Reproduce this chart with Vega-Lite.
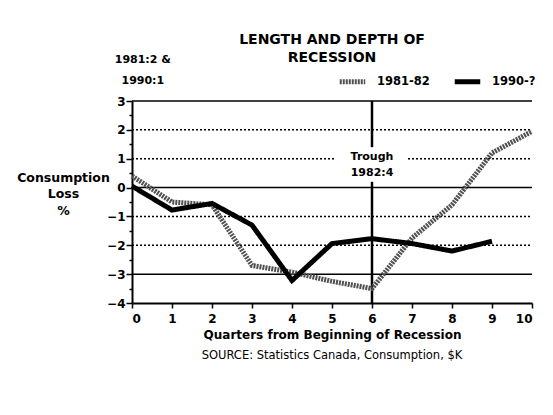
{
  "$schema": "https://vega.github.io/schema/vega-lite/v6.json",
  "width": 400,
  "height": 202,
  "autosize": {"type": "none"},
  "padding": {"left": 132, "top": 101, "right": 21, "bottom": 112},
  "background": "white",
  "config": {
    "view": {"stroke": null},
    "font": "DejaVu Sans",
    "legend": {
      "orient": "none",
      "legendX": 205,
      "legendY": -35,
      "direction": "horizontal",
      "symbolType": "stroke",
      "symbolSize": 650,
      "symbolStrokeWidth": 5,
      "labelFont": "DejaVu Sans",
      "labelFontSize": 11.5,
      "labelFontWeight": "bold",
      "labelColor": "black",
      "columnPadding": 14,
      "labelOffset": 9
    }
  },
  "title": {
    "text": ["LENGTH AND DEPTH OF", "RECESSION"],
    "frame": "group",
    "anchor": "middle",
    "font": "DejaVu Sans",
    "fontSize": 14,
    "fontWeight": "bold",
    "color": "black",
    "lineHeight": 18,
    "offset": -11
  },
  "datasets": {
    "series": [
      {"s": "1981-82", "q": 0, "v": 0.4},
      {"s": "1981-82", "q": 1, "v": -0.5},
      {"s": "1981-82", "q": 2, "v": -0.6},
      {"s": "1981-82", "q": 3, "v": -2.7},
      {"s": "1981-82", "q": 4, "v": -2.93},
      {"s": "1981-82", "q": 5, "v": -3.25},
      {"s": "1981-82", "q": 6, "v": -3.5},
      {"s": "1981-82", "q": 7, "v": -1.75},
      {"s": "1981-82", "q": 8, "v": -0.6},
      {"s": "1981-82", "q": 9, "v": 1.2},
      {"s": "1981-82", "q": 10, "v": 1.95},
      {"s": "1990-?", "q": 0, "v": 0.05},
      {"s": "1990-?", "q": 1, "v": -0.78},
      {"s": "1990-?", "q": 2, "v": -0.55},
      {"s": "1990-?", "q": 3, "v": -1.3},
      {"s": "1990-?", "q": 4, "v": -3.22},
      {"s": "1990-?", "q": 5, "v": -1.94},
      {"s": "1990-?", "q": 6, "v": -1.77},
      {"s": "1990-?", "q": 7, "v": -1.94},
      {"s": "1990-?", "q": 8, "v": -2.2},
      {"s": "1990-?", "q": 9, "v": -1.86}
    ],
    "gridSolid": [
      {"q": 0, "q2": 10, "v": 3},
      {"q": 0, "q2": 10, "v": 0},
      {"q": 0, "q2": 10, "v": -3}
    ],
    "gridDashed": [
      {"q": 0, "q2": 10, "v": 2},
      {"q": 0, "q2": 5.05, "v": 1},
      {"q": 6.9, "q2": 10, "v": 1},
      {"q": 0, "q2": 10, "v": -1},
      {"q": 0, "q2": 10, "v": -2}
    ],
    "trough": [
      {"q": 6, "v": 3, "v2": 1.4},
      {"q": 6, "v": 0.2, "v2": -4}
    ],
    "boldText": [
      {"q": 6, "v": 1.05, "t": "Trough"},
      {"q": 6, "v": 0.5, "t": "1982:4"},
      {"q": 0.27, "v": 4.42, "t": "1981:2 &"},
      {"q": 0.27, "v": 3.7, "t": "1990:1"}
    ],
    "source": [
      {"q": 5, "v": -5.85, "t": "SOURCE: Statistics Canada, Consumption, $K"}
    ]
  },
  "encoding": {
    "x": {
      "field": "q",
      "type": "quantitative",
      "scale": {"domain": [0, 10], "nice": false, "zero": false},
      "axis": {
        "values": [0, 1, 2, 3, 4, 5, 6, 7, 8, 9, 10],
        "format": "d",
        "grid": false,
        "domainColor": "black",
        "domainWidth": 2,
        "tickColor": "black",
        "tickWidth": 1.5,
        "tickSize": 5,
        "labelFont": "DejaVu Sans",
        "labelFontWeight": "bold",
        "labelFontSize": 12,
        "labelColor": "black",
        "labelPadding": 5,
        "title": "Quarters from Beginning of Recession",
        "titleFont": "DejaVu Sans",
        "titleFontSize": 12,
        "titleFontWeight": "bold",
        "titleColor": "black",
        "titlePadding": 5
      }
    },
    "y": {
      "field": "v",
      "type": "quantitative",
      "scale": {"domain": [-4, 3], "nice": false, "zero": false},
      "axis": {
        "values": [-4, -3.5, -3, -2.5, -2, -1.5, -1, -0.5, 0, 0.5, 1, 1.5, 2, 2.5, 3],
        "labelExpr": "datum.value % 1 === 0 ? format(datum.value, 'd') : ''",
        "grid": false,
        "domainColor": "black",
        "domainWidth": 2,
        "tickColor": "black",
        "tickWidth": 1.5,
        "tickSize": {"condition": {"test": "datum.value % 1 !== 0", "value": 3}, "value": 6},
        "labelFont": "DejaVu Sans",
        "labelFontWeight": "bold",
        "labelFontSize": 12,
        "labelColor": "black",
        "labelPadding": 1,
        "title": ["Consumption", "Loss", "%"],
        "titleFont": "DejaVu Sans",
        "titleFontSize": 12.5,
        "titleFontWeight": "bold",
        "titleColor": "black",
        "titleAngle": 0,
        "titleAlign": "center",
        "titleBaseline": "middle",
        "titleLineHeight": 16.5,
        "titleX": -69,
        "titleY": 76
      }
    }
  },
  "layer": [
    {
      "data": {"name": "gridDashed"},
      "mark": {"type": "rule", "color": "black", "strokeWidth": 1.5, "strokeDash": [2, 2]},
      "encoding": {"x2": {"field": "q2"}}
    },
    {
      "data": {"name": "gridSolid"},
      "mark": {"type": "rule", "color": "black", "strokeWidth": 1.5},
      "encoding": {"x2": {"field": "q2"}}
    },
    {
      "data": {"name": "trough"},
      "mark": {"type": "rule", "color": "black", "strokeWidth": 2.5},
      "encoding": {"y2": {"field": "v2"}}
    },
    {
      "data": {"name": "series"},
      "mark": {"type": "line", "strokeWidth": 5, "strokeJoin": "miter"},
      "encoding": {
        "color": {
          "field": "s",
          "type": "nominal",
          "title": null,
          "scale": {"domain": ["1981-82", "1990-?"], "range": ["#505050", "#000000"]}
        },
        "strokeDash": {
          "field": "s",
          "type": "nominal",
          "title": null,
          "scale": {"domain": ["1981-82", "1990-?"], "range": [[2, 1], [1, 0]]}
        }
      }
    },
    {
      "data": {"name": "boldText"},
      "mark": {"type": "text", "font": "DejaVu Sans", "fontSize": 11, "fontWeight": "bold", "color": "black", "align": "center", "baseline": "middle"},
      "encoding": {"text": {"field": "t"}}
    },
    {
      "data": {"name": "source"},
      "mark": {"type": "text", "font": "DejaVu Sans", "fontSize": 11.5, "color": "black", "align": "center", "baseline": "middle"},
      "encoding": {"text": {"field": "t"}}
    }
  ]
}
